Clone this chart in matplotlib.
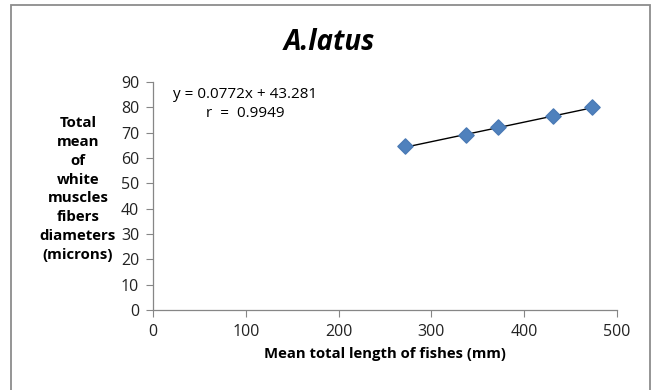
import matplotlib
matplotlib.use("Agg")
import matplotlib.pyplot as plt
from matplotlib.patches import Rectangle
import numpy as np

plt.rcParams['font.family'] = ['Open Sans', 'DejaVu Sans']

lengths = [272, 337, 372, 431, 473]
diameters = [64.8, 68.9, 72.3, 76.6, 80.2]
slope, intercept = 0.0772, 43.281
r_value = 0.9949
title = "A.latus"
xlabel = "Mean total length of fishes (mm)"
ylabel = "Total\nmean\nof\nwhite\nmuscles\nfibers\ndiameters\n(microns)"
xticks = [0, 100, 200, 300, 400, 500]
yticks = [0, 10, 20, 30, 40, 50, 60, 70, 80, 90]

W, H = 652, 390
fig = plt.figure(figsize=(W/100, H/100), dpi=100)
ax = fig.add_axes([153/W, 1-310/H, (617-153)/W, (310-82)/H])

# outer border (bottom edge falls outside the image, as in the reference)
fig.patches.append(Rectangle((11/W, -5/H), (650-11)/W, (390)/H, transform=fig.transFigure,
                             fill=False, edgecolor='#8c8c8c', linewidth=1.3))

xs = np.array([lengths[0], lengths[-1]])
ax.plot(xs, slope*xs + intercept, color='black', linewidth=1.0, zorder=2)
ax.scatter(lengths, diameters, marker='D', s=60, color='#4f81bd', edgecolor='#4a7ab5', zorder=3)

ax.set_xlim(0, 500)
ax.set_ylim(0, 90)
ax.set_xticks(xticks)
ax.set_yticks(yticks)
for s in ['top', 'right']:
    ax.spines[s].set_visible(False)
for s in ['left', 'bottom']:
    ax.spines[s].set_color('#868686')
    ax.spines[s].set_linewidth(0.9)
ax.tick_params(direction='out', length=5, color='#868686', labelsize=11.5, labelcolor='#222222')
ax.tick_params(axis='y', pad=5)
ax.tick_params(axis='x', pad=5)

ax.set_xlabel(xlabel, fontsize=10.7, fontweight='bold', labelpad=5)
fig.text(78/W, 1-189/H, ylabel, ha='center', va='center', fontsize=10.8,
         fontweight='bold', linespacing=1.45)

fig.text(329/W, 1-42/H, title, ha='center', va='center', fontsize=20,
         fontweight='bold', fontstyle='italic')

fig.text(245/W, 1-95/H, f"y = {slope}x + {intercept}", ha='center', va='center', fontsize=11)
fig.text(245/W, 1-113/H, f"r  =  {r_value}", ha='center', va='center', fontsize=11)

fig.savefig("out.png", dpi=100)
